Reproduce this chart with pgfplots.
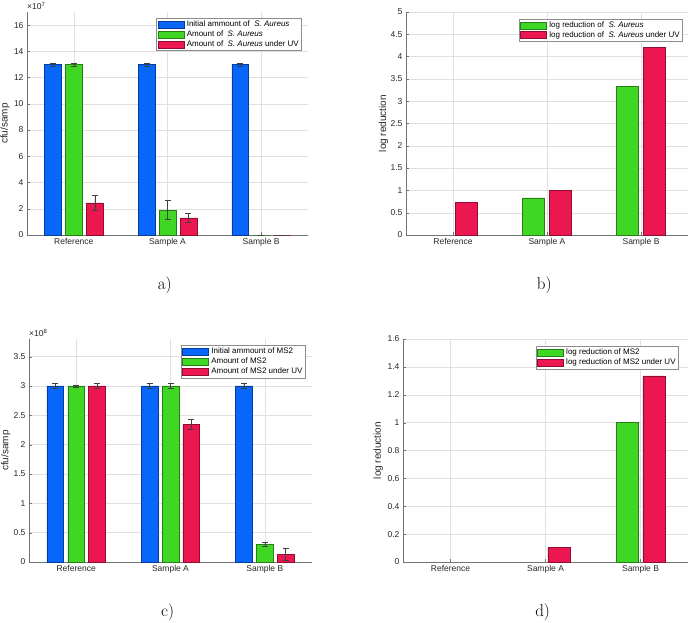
\documentclass[border=0pt]{standalone}
\usepackage{fontspec}
\usepackage{pgfplots}
\usepackage{pgfplotstable}
\pgfplotsset{compat=1.18}
\newfontfamily\hel{Liberation Sans}
\definecolor{mblue}{RGB}{8,102,250}
\definecolor{mgreen}{RGB}{64,214,36}
\definecolor{mred}{RGB}{236,22,80}

% S. Aureus amounts (x 10^7)
\pgfplotstableread{
x init initE amt amtE uv uvE
1 13 0.12 13 0.12 2.45 0.57
2 13 0.10 1.9 0.73 1.3 0.33
3 13 0.10 0 0 0 0
}\tabA
% log reduction S. Aureus
\pgfplotstableread{
x lr lruv
1 0 0.73
2 0.83 1.0
3 3.34 4.2
}\tabB
% MS2 amounts (x 10^8)
\pgfplotstableread{
x init initE amt amtE uv uvE
1 3 0.04 3 0.02 3 0.04
2 3 0.04 3 0.04 2.35 0.085
3 3 0.04 0.30 0.04 0.13 0.105
}\tabC
% log reduction MS2
\pgfplotstableread{
x lr lruv
1 0 0
2 0 0.105
3 1.0 1.335
}\tabD

\pgfplotsset{
 mat/.style={scale only axis, height=223pt, xmin=0.5, xmax=3.5, ymin=0,
  xtick={1,2,3}, xticklabels={Reference,Sample A,Sample B},
  axis lines=left, axis line style={-, black!55}, enlargelimits=false,
  tick align=inside, major tick length=3pt, tick style={black!55},
  grid=major, major grid style={black!12, line width=0.4pt}, clip=false,
  ticklabel style={font=\hel\fontsize{8.5}{10}\selectfont, text=black!85},
  /pgf/number format/assume math mode=true,
  label style={font=\hel\fontsize{10}{11}\selectfont, text=black!85},
  legend style={font=\hel\fontsize{8}{9.5}\selectfont, draw=black!45, line width=0.4pt,
   inner sep=1.2pt, nodes={inner xsep=1.3pt, inner ysep=1.3pt}, anchor=north east,
   /tikz/every odd column/.append style={column sep=1.5pt}},
  legend cell align=left, scaled y ticks=false,
  yticklabel style={/pgf/number format/fixed}},
 mbar/.style={ybar, bar shift=0pt, fill=#1, draw=#1!60!black, line width=0.4pt,
  legend image code/.code={\draw[##1] (0pt,-3.5pt) rectangle (26pt,3.5pt);}},
 eb/.style={error bars/y dir=both, error bars/y explicit,
  error bars/error bar style={line width=0.5pt, black!75},
  error bars/error mark options={rotate=90, mark size=3pt, line width=0.5pt, black!75}},
 nozero/.style={y filter/.expression={y==0 ? nan : y}},
}

\begin{document}
\begin{tikzpicture}
\useasboundingbox (0,0) rectangle (690pt,622pt);

% a)
\begin{axis}[mat, at={(27pt,387pt)}, anchor=south west, width=281pt,
  ymax=17, ytick={0,2,...,16}, ylabel={cfu/samp},
  ylabel style={at={(axis description cs:-0.078,0.5)}, anchor=center},
  legend style={at={(0.977,0.972)}}]
\addplot[mbar=mblue, bar width=16.7pt, eb] table[x expr=\thisrow{x}-0.224, y=init, y error=initE] {\tabA};
\addlegendentry{Initial ammount of~ \textit{S. Aureus}}
\addplot[mbar=mgreen, bar width=16.7pt, eb] table[x=x, y=amt, y error=amtE] {\tabA};
\addlegendentry{Amount of~ \textit{S. Aureus}}
\addplot[mbar=mred, bar width=16.7pt, eb] table[x expr=\thisrow{x}+0.224, y=uv, y error=uvE] {\tabA};
\addlegendentry{Amount of~ \textit{S. Aureus} under UV}
\node[anchor=south west, inner sep=0pt, yshift=2pt, font=\hel\fontsize{8.5}{9}\selectfont, text=black!85] at (rel axis cs:0,1) {×10\textsuperscript{7}};
\node[font=\fontsize{17}{20}\selectfont] at (rel axis cs:0.49,-0.225) {a)};
\end{axis}

% b)
\begin{axis}[mat, at={(406pt,387pt)}, anchor=south west, width=282pt,
  ymax=5, ytick={0,0.5,...,5}, ylabel={log reduction},
  ylabel style={at={(axis description cs:-0.08,0.5)}, anchor=center},
  legend style={at={(0.98,0.969)}}]
\addplot[mbar=mgreen, bar width=22pt, nozero] table[x expr=\thisrow{x}-0.1436, y=lr] {\tabB};
\addlegendentry{log reduction of~ \textit{S. Aureus}}
\addplot[mbar=mred, bar width=22pt, nozero] table[x expr=\thisrow{x}+0.1436, y=lruv] {\tabB};
\addlegendentry{log reduction of~ \textit{S. Aureus} under UV}
\node[font=\fontsize{17}{20}\selectfont] at (rel axis cs:0.49,-0.225) {b)};
\end{axis}

% c)
\begin{axis}[mat, at={(29pt,60pt)}, anchor=south west, width=283pt,
  ymax=3.8, ytick={0,0.5,...,3.5}, ylabel={cfu/samp},
  ylabel style={at={(axis description cs:-0.082,0.5)}, anchor=center},
  legend style={at={(0.976,0.971)}}]
\addplot[mbar=mblue, bar width=16.7pt, eb] table[x expr=\thisrow{x}-0.221, y=init, y error=initE] {\tabC};
\addlegendentry{Initial ammount of MS2}
\addplot[mbar=mgreen, bar width=16.7pt, eb] table[x=x, y=amt, y error=amtE] {\tabC};
\addlegendentry{Amount of MS2}
\addplot[mbar=mred, bar width=16.7pt, eb] table[x expr=\thisrow{x}+0.221, y=uv, y error=uvE] {\tabC};
\addlegendentry{Amount of MS2 under UV}
\node[anchor=south west, inner sep=0pt, yshift=2pt, font=\hel\fontsize{8.5}{9}\selectfont, text=black!85] at (rel axis cs:0,1) {×10\textsuperscript{8}};
\node[font=\fontsize{17}{20}\selectfont] at (rel axis cs:0.49,-0.227) {c)};
\end{axis}

% d)
\begin{axis}[mat, at={(403pt,60pt)}, anchor=south west, width=285pt,
  ymax=1.6, ytick={0,0.2,...,1.6}, ylabel={log reduction},
  ylabel style={at={(axis description cs:-0.087,0.5)}, anchor=center},
  legend style={at={(0.966,0.967)}}]
\addplot[mbar=mgreen, bar width=22pt, nozero] table[x expr=\thisrow{x}-0.142, y=lr] {\tabD};
\addlegendentry{log reduction of MS2}
\addplot[mbar=mred, bar width=22pt, nozero] table[x expr=\thisrow{x}+0.142, y=lruv] {\tabD};
\addlegendentry{log reduction of MS2 under UV}
\node[font=\fontsize{17}{20}\selectfont] at (rel axis cs:0.49,-0.227) {d)};
\end{axis}
\end{tikzpicture}
\end{document}
